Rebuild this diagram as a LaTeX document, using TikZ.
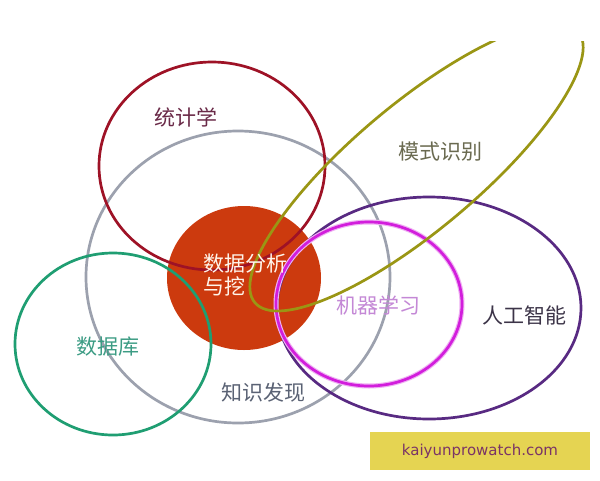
\documentclass[tikz,border=0pt]{standalone}
\usepackage{fontspec}
\newfontfamily\cjk{Noto Sans CJK SC}
\newfontfamily\wmfont{DejaVu Sans}
\usetikzlibrary{shapes.geometric}
\definecolor{cRed}{HTML}{9E1226}
\definecolor{cGray}{HTML}{9CA1AE}
\definecolor{cFill}{HTML}{CC3A0E}
\definecolor{cGreen}{HTML}{1F9E72}
\definecolor{cPurple}{HTML}{582A82}
\definecolor{cMag}{HTML}{D21EDC}
\definecolor{cOlive}{HTML}{9A9614}
\definecolor{cWm}{HTML}{E5D452}
\definecolor{tStat}{HTML}{6A2A48}
\definecolor{tPat}{HTML}{6A6A50}
\definecolor{tML}{HTML}{C488D6}
\definecolor{tAI}{HTML}{3C3448}
\definecolor{tDB}{HTML}{3C9C84}
\definecolor{tKD}{HTML}{5A6274}
\definecolor{tWm}{HTML}{7A3466}
\tikzset{
  ring/.style={draw, ellipse, inner sep=0pt, outer sep=0pt, line width=2.7pt},
  lbl/.style={font=\cjk\fontsize{21}{23}\selectfont, inner sep=0pt}
}
\begin{document}
\begin{tikzpicture}[x=1pt,y=-1pt]
\useasboundingbox (0,0) rectangle (600,480);
\fill[white] (0,0) rectangle (600,480);
% filled core
\node[ellipse, fill=cFill, inner sep=0pt, minimum width=154pt, minimum height=144pt] (core) at (244,278) {};
% rings
\node[ring, draw=cGray, minimum width=304pt, minimum height=292pt] (kd) at (238,277) {};
\node[ring, draw=cRed, minimum width=226pt, minimum height=208pt] (stat) at (212,166) {};
\node[ring, draw=cGreen, minimum width=196pt, minimum height=182pt] (db) at (113,344) {};
\node[ring, draw=cPurple, minimum width=304pt, minimum height=222pt] (ai) at (429,308) {};
\node[ring, draw=cMag!35, line width=5pt, minimum width=186pt, minimum height=164pt] (mlglow) at (369,304) {};
\node[ring, draw=cMag, minimum width=186pt, minimum height=164pt] (ml) at (369,304) {};
\begin{scope}
\clip (0,41) rectangle (600,480);
\node[ring, draw=cOlive, rotate=40, minimum width=422pt, minimum height=126pt] (pr) at (416.5,167) {};
\end{scope}
% labels
\node[lbl, text=tStat] (tstat) at (186,117) {统计学};
\node[lbl, text=tPat] (tpat) at (440,152) {模式识别};
\node[lbl, text=white!92!orange, align=left] (tcore) at (245,275) {数据分析\\与挖\phantom{分析}};
\node[lbl, text=tML] (tml) at (378,305) {机器学习};
\node[lbl, text=tAI] (tai) at (524,315) {人工智能};
\node[lbl, text=tDB] (tdb) at (108,347) {数据库};
\node[lbl, text=tKD] (tkd) at (263,393) {知识发现};
% watermark
\node[fill=cWm, minimum width=220pt, minimum height=38pt, inner sep=0pt] (wm) at (480,451) {};
\node[font=\wmfont\fontsize{15}{17}\selectfont, text=tWm] (wmt) at (wm.center) {kaiyunprowatch.com};
\end{tikzpicture}
\end{document}
